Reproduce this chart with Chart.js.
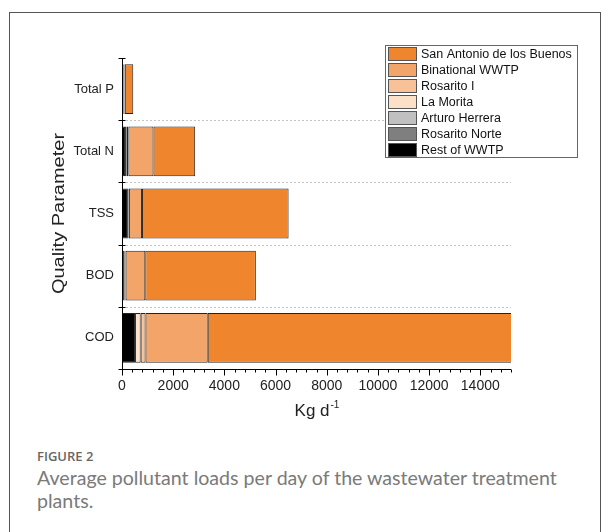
<!DOCTYPE html>
<html>
<head>
<meta charset="utf-8">
<script src="https://cdn.jsdelivr.net/npm/chart.js@4/dist/chart.umd.min.js"></script>
<style>
  body { margin: 0; background: #fff; width: 609px; height: 532px; overflow: hidden; position: relative; }
  .card { position: absolute; left: 9px; top: 12px; width: 590px; height: 540px; border: 1px solid #555; }
  #chart { position: absolute; left: 10px; top: 13px; }
  .figlabel { position: absolute; left: 37px; top: 447px; font: 600 13px "Open Sans", sans-serif; color: #666; }
  .figtext { position: absolute; left: 37px; top: 466px; width: 548px; font: 19.6px Lato, "Open Sans", sans-serif; line-height: 23px; color: #7a7a7a; }
</style>
</head>
<body>
<div class="card"></div>
<canvas id="chart" width="590" height="412"></canvas>
<div class="figlabel">FIGURE 2</div>
<div class="figtext">Average pollutant loads per day of the wastewater treatment plants.</div>
<script>
// categories, top to bottom
const parameters = ['Total P', 'Total N', 'TSS', 'BOD', 'COD'];

// loads in kg/d, one value per parameter
const restOfWWTP    = [60, 120, 230, 100, 510];
const rosaritoNorte = [0, 0, 0, 0, 0];
const arturoHerrera = [0, 0, 0, 0, 0];
const laMorita      = [20, 60, 20, 20, 220];
const rosaritoI     = [10, 70, 20, 20, 190];
const binational    = [20, 980, 510, 770, 2430];
const sanAntonio    = [330, 1630, 5730, 4320, 12500];

const xMax = 15200;
const xMajorStep = 2000;
const xMinorStep = 400;

const txt = 'Liberation Sans, Arial, sans-serif';

function makeSet(label, data, color) {
    return {
        label: label,
        data: data,
        backgroundColor: color,
        borderColor: '#222',
        borderWidth: 1,
        borderSkipped: false,
        clip: 0
    };
}

const datasets = [
    makeSet('Rest of WWTP', restOfWWTP, '#000000'),
    makeSet('Rosarito Norte', rosaritoNorte, '#7f7f7f'),
    makeSet('Arturo Herrera', arturoHerrera, '#c0c0c0'),
    makeSet('La Morita', laMorita, '#fde0c8'),
    makeSet('Rosarito I', rosaritoI, '#f8c198'),
    makeSet('Binational WWTP', binational, '#f3a468'),
    makeSet('San Antonio de los Buenos', sanAntonio, '#ef852d')
];

// gridlines, axes, legend box and axis titles
const extras = {
    id: 'extras',
    beforeDatasetsDraw(chart) {
        const ctx = chart.ctx;
        const area = chart.chartArea;
        const ys = chart.scales.y;
        const band = (ys.getPixelForValue(1) - ys.getPixelForValue(0));
        ctx.save();
        ctx.strokeStyle = '#c4c4c4';
        ctx.lineWidth = 1;
        ctx.setLineDash([2, 2]);
        for (let i = 1; i < parameters.length; i++) {
            const py = Math.round(ys.getPixelForValue(i) - band / 2) + 0.5;
            ctx.beginPath();
            ctx.moveTo(area.left, py);
            ctx.lineTo(area.right, py);
            ctx.stroke();
        }
        ctx.restore();
    },
    afterDraw(chart) {
        const ctx = chart.ctx;
        const area = chart.chartArea;
        const xs = chart.scales.x;
        const ys = chart.scales.y;
        const band = (ys.getPixelForValue(1) - ys.getPixelForValue(0));

        ctx.save();
        ctx.strokeStyle = '#000';
        ctx.lineWidth = 1;
        // y axis line and category ticks
        const ax = Math.round(area.left) + 0.5;
        ctx.beginPath();
        ctx.moveTo(ax, area.top);
        ctx.lineTo(ax, area.bottom);
        ctx.stroke();
        for (let i = 0; i <= parameters.length; i++) {
            const py = Math.round(ys.getPixelForValue(i) - band / 2) + 0.5;
            ctx.beginPath();
            ctx.moveTo(ax - 4, py);
            ctx.lineTo(ax + 3, py);
            ctx.stroke();
        }
        // x axis line and ticks: long at labelled values, short in between
        const by = Math.round(area.bottom) + 0.5;
        ctx.beginPath();
        ctx.moveTo(area.left, by);
        ctx.lineTo(area.right, by);
        ctx.stroke();
        for (let v = 0; v <= xMax; v += xMinorStep) {
            const px = Math.round(xs.getPixelForValue(v)) + 0.5;
            const len = v % xMajorStep === 0 ? 6 : 3;
            ctx.beginPath();
            ctx.moveTo(px, by);
            ctx.lineTo(px, by + len);
            ctx.stroke();
        }
        ctx.restore();

        // y title
        ctx.save();
        ctx.translate(50, (area.top + area.bottom) / 2);
        ctx.rotate(-Math.PI / 2);
        ctx.scale(1.25, 1);
        ctx.font = '16px ' + txt;
        ctx.fillStyle = '#222';
        ctx.textAlign = 'center';
        ctx.textBaseline = 'middle';
        ctx.fillText('Quality Parameter', 0, 0);
        ctx.restore();

        // x title with superscript
        ctx.save();
        ctx.fillStyle = '#222';
        ctx.textBaseline = 'alphabetic';
        ctx.font = '17px ' + txt;
        const main = 'Kg d';
        const mw = ctx.measureText(main).width;
        ctx.font = '10px ' + txt;
        const sw = ctx.measureText('-1').width;
        const cx = (area.left + area.right) / 2;
        const x0 = cx - (mw + sw) / 2;
        ctx.font = '17px ' + txt;
        ctx.fillText(main, x0, 403);
        ctx.font = '10px ' + txt;
        ctx.fillText('-1', x0 + mw + 1, 395);
        ctx.restore();

        // legend
        const items = chart.data.datasets.slice().reverse();
        const lx = 375, ly = 32, lw = 192, rowH = 16;
        ctx.save();
        ctx.fillStyle = '#fff';
        ctx.fillRect(lx, ly, lw, rowH * items.length);
        ctx.strokeStyle = '#666';
        ctx.lineWidth = 1;
        ctx.strokeRect(lx + 0.5, ly + 0.5, lw, rowH * items.length);
        ctx.font = '12.5px ' + txt;
        ctx.textBaseline = 'middle';
        items.forEach((ds, i) => {
            const y = ly + i * rowH;
            ctx.fillStyle = ds.backgroundColor;
            ctx.fillRect(lx + 3, y + 2, 29, 14);
            ctx.strokeStyle = '#555';
            ctx.strokeRect(lx + 3.5, y + 2.5, 28, 13);
            ctx.fillStyle = '#111';
            ctx.fillText(ds.label, lx + 36, y + 9.5);
        });
        ctx.restore();
    }
};

new Chart(document.getElementById('chart'), {
    type: 'bar',
    data: {
        labels: parameters,
        datasets: datasets
    },
    options: {
        indexAxis: 'y',
        responsive: false,
        animation: false,
        barPercentage: 0.8,
        categoryPercentage: 1,
        layout: {
            padding: { top: 45, right: 89, left: 0, bottom: 0 }
        },
        plugins: {
            legend: { display: false },
            tooltip: { enabled: false }
        },
        scales: {
            x: {
                stacked: true,
                min: 0,
                max: xMax,
                afterFit: function(scale) { scale.height = 56; },
                afterBuildTicks: function(scale) {
                    const t = [];
                    for (let v = 0; v <= xMax; v += xMajorStep) t.push({ value: v });
                    scale.ticks = t;
                },
                ticks: {
                    autoSkip: false,
                    maxRotation: 0,
                    padding: 9,
                    color: '#222',
                    font: { family: txt, size: 14 },
                    callback: function(value) { return String(value); }
                },
                grid: {
                    display: false,
                    drawOnChartArea: false,
                    drawTicks: false
                },
                border: { display: false }
            },
            y: {
                stacked: true,
                afterFit: function(scale) { scale.width = 112; },
                ticks: {
                    padding: 8,
                    color: '#222',
                    font: { family: txt, size: 13 }
                },
                grid: {
                    display: false,
                    drawTicks: false
                },
                border: { display: false }
            }
        }
    },
    plugins: [extras]
});
</script>
</body>
</html>
